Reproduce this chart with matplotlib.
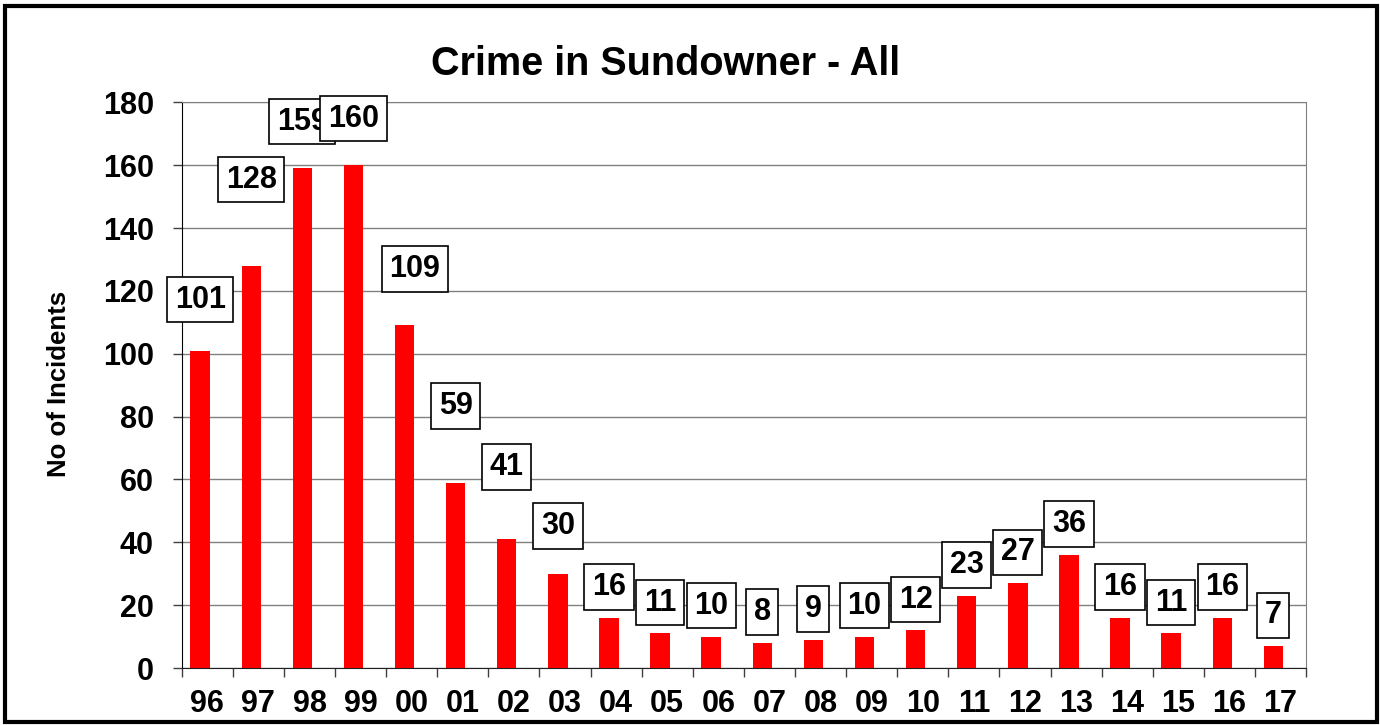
import numpy as np
import matplotlib
matplotlib.use("Agg")
import matplotlib.pyplot as plt
from matplotlib.patches import Rectangle

years = ["96", "97", "98", "99", "00", "01", "02", "03", "04", "05", "06",
         "07", "08", "09", "10", "11", "12", "13", "14", "15", "16", "17"]
incidents = [101, 128, 159, 160, 109, 59, 41, 30, 16, 11, 10,
             8, 9, 10, 12, 23, 27, 36, 16, 11, 16, 7]
# vertical lift of each data-label box above its bar (data units)
label_lift = [16.2, 27.4, 14.8, 14.8, 18.0, 24.4, 23.0, 15.2] + [9.8] * 14
label_shift = [0, 0, 0, 0, 0.2] + [0] * 17

plt.rcParams['font.family'] = ['Liberation Sans', 'DejaVu Sans']

fig = plt.figure(figsize=(13.8, 7.25), dpi=100)
ax = fig.add_axes([0.1317, 0.0786, 0.8147, 0.7803])

x = np.arange(len(years))
bar_x = x - 0.14
ax.bar(bar_x, incidents, width=0.38, color='#FF0000', zorder=2)

ax.set_xlim(-0.5, len(years) - 0.5)
ax.set_ylim(0, 180)
ax.set_yticks(range(0, 181, 20))
ax.yaxis.grid(True, color='#808080', lw=1.0)
ax.set_axisbelow(True)

ax.set_xticks(x)
ax.set_xticklabels(years, fontsize=22, fontweight='bold')
ax.set_xticks(np.arange(-0.5, len(years), 1), minor=True)
ax.tick_params(axis='x', which='major', length=0, pad=15)
ax.tick_params(axis='x', which='minor', length=6.5, width=1, color='#404040', direction='out')
ax.tick_params(axis='y', length=6.5, width=1, color='#404040', pad=13.5, labelsize=22)
for lbl in ax.get_yticklabels():
    lbl.set_fontweight('bold')

ax.spines['left'].set_color('black')
ax.spines['bottom'].set_color('#202020')
ax.spines['right'].set_color('#808080')
ax.spines['top'].set_color('#808080')

for i, v in enumerate(incidents):
    ax.text(bar_x[i] + label_shift[i], v + label_lift[i], str(v),
            ha='center', va='center', fontsize=22, fontweight='bold',
            bbox=dict(boxstyle='square,pad=0.25', fc='white', ec='black', lw=1.2),
            zorder=5)

fig.text(0.482, 0.8966, "Crime in Sundowner - All", ha='center', va='baseline',
         fontsize=28.5, fontweight='bold')
fig.text(0.043, 0.470, "No of Incidents", ha='center', va='center',
         rotation=90, fontsize=18.5, fontweight='bold')

fig.patches.append(Rectangle((0.00384, 0.00414), 0.994, 0.9876, transform=fig.transFigure,
                             fill=False, ec='black', lw=3, zorder=10))

fig.savefig("out.png", dpi=100)
